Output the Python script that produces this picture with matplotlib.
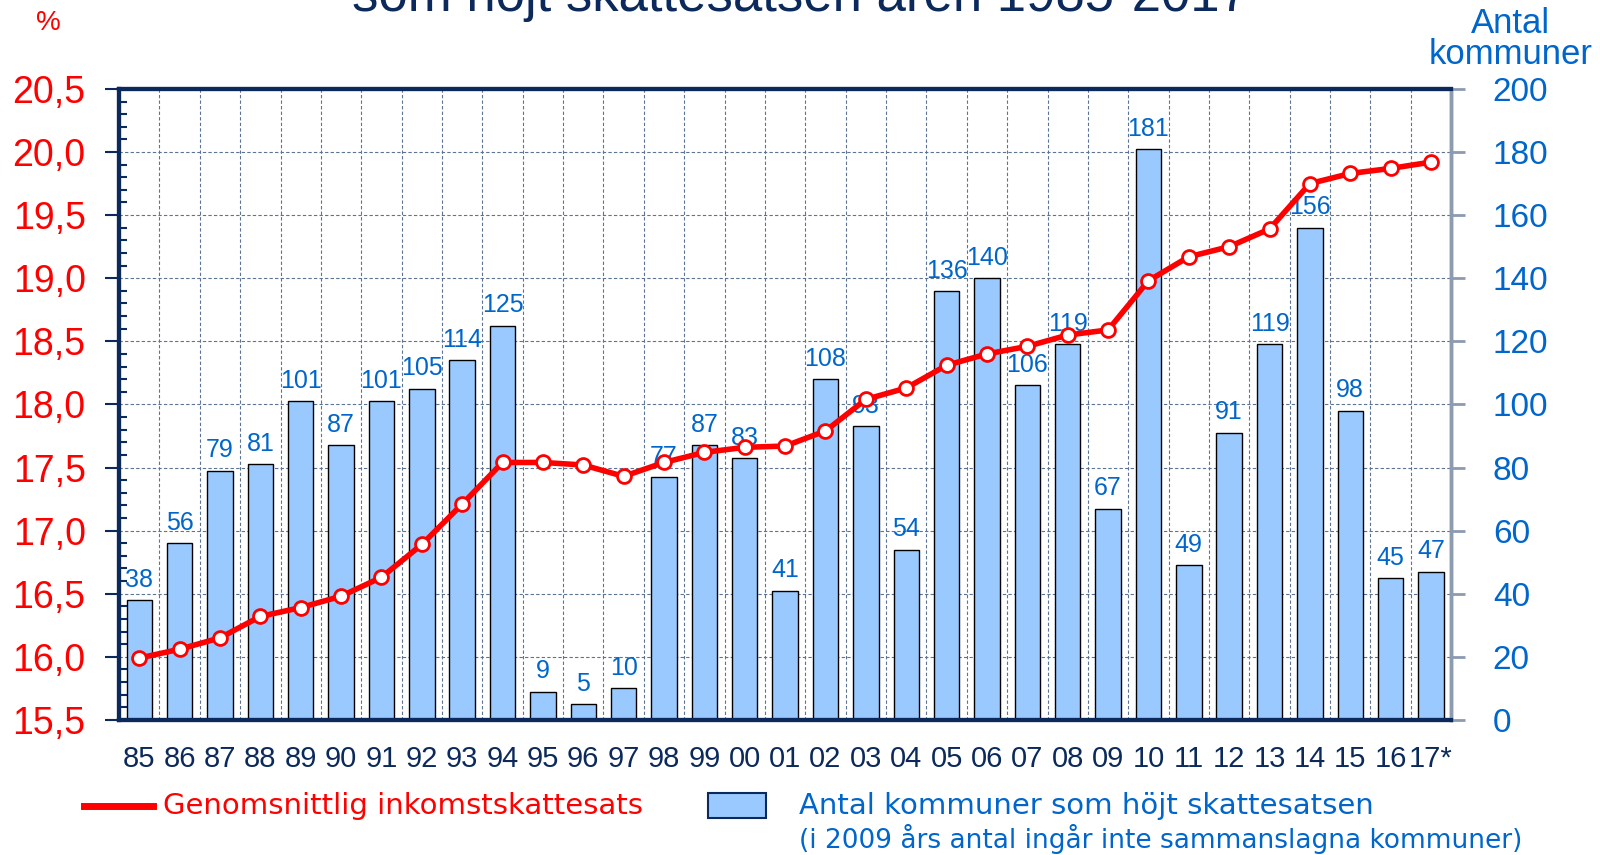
import numpy as np
import matplotlib
matplotlib.use("Agg")
import matplotlib.pyplot as plt
from matplotlib.ticker import MultipleLocator, FuncFormatter
from matplotlib.patches import Rectangle
from matplotlib.lines import Line2D

# data
years = ['85', '86', '87', '88', '89', '90', '91', '92', '93', '94', '95', '96',
         '97', '98', '99', '00', '01', '02', '03', '04', '05', '06', '07', '08',
         '09', '10', '11', '12', '13', '14', '15', '16', '17*']
antal = [38, 56, 79, 81, 101, 87, 101, 105, 114, 125, 9, 5,
         10, 77, 87, 83, 41, 108, 93, 54, 136, 140, 106, 119,
         67, 181, 49, 91, 119, 156, 98, 45, 47]
skattesats = [15.99, 16.06, 16.15, 16.32, 16.39, 16.48, 16.63, 16.89, 17.21, 17.54, 17.54, 17.52,
              17.43, 17.54, 17.62, 17.66, 17.67, 17.79, 18.04, 18.13, 18.31, 18.40, 18.46, 18.55,
              18.59, 18.98, 19.17, 19.25, 19.39, 19.75, 19.83, 19.87, 19.92]

RED = '#FF0000'
BLUE = '#0066CC'
NAVY = '#0B2A5B'
BARC = '#99C9FF'
GRID = '#5B7394'

plt.rcParams['font.family'] = ['Liberation Sans', 'DejaVu Sans']

fig = plt.figure(figsize=(16, 8.55), dpi=100)
ax = fig.add_axes([0.0744, 0.158, 0.8326, 0.738])
ax2 = ax.twinx()

x = np.arange(len(years))

# bars on right axis
ax2.bar(x, antal, width=0.63, color=BARC, edgecolor='black', linewidth=1, zorder=2)
for xi, v in zip(x, antal):
    ax2.annotate(str(v), (xi, v), xytext=(0, 6), textcoords='offset points',
                 ha='center', va='bottom', color=BLUE, fontsize=18, zorder=5)
ax2.set_ylim(0, 200)
ax2.yaxis.set_major_locator(MultipleLocator(20))
ax2.tick_params(axis='y', colors='#8C9BB0', labelcolor=BLUE, labelsize=24,
                length=10, width=2, direction='out', pad=20)

# line on left axis, drawn above bars
ax.set_zorder(ax2.get_zorder() + 1)
ax.patch.set_visible(False)
ax2.patch.set_visible(True)
ax2.patch.set_facecolor('white')
ax.plot(x, skattesats, color=RED, lw=4, marker='o', markersize=10,
        markerfacecolor='white', markeredgecolor=RED, markeredgewidth=2, zorder=4)
ax.set_ylim(15.5, 20.5)
ax.set_xlim(-0.5, len(years) - 0.5)
ax.yaxis.set_major_locator(MultipleLocator(0.5))
ax.yaxis.set_minor_locator(MultipleLocator(0.1))
ax.yaxis.set_major_formatter(FuncFormatter(lambda v, p: f'{v:.1f}'.replace('.', ',')))
ax.tick_params(axis='y', which='major', colors=NAVY, labelcolor=RED, labelsize=27,
               length=10, width=1.5, direction='out', pad=14)
ax.tick_params(axis='y', which='minor', colors=NAVY, length=6, width=1.5, direction='in')

# x ticks at category boundaries, labels at centres
ax.set_xticks(x + 0.5, minor=False)
ax.set_xticklabels([])
ax.set_xticks(x, minor=True)
ax.set_xticklabels(years, minor=True)
ax.tick_params(axis='x', which='major', colors=GRID, length=10, width=1, direction='out')
ax.tick_params(axis='x', which='minor', length=0, labelcolor=NAVY, labelsize=21, pad=18)
ax2.set_xticks([])

# grid
ax2.set_axisbelow(True)
for gx in x[:-1] + 0.5:
    ax2.axvline(gx, color=GRID, lw=0.8, ls=(0, (3, 2)), zorder=1)
for gy in np.arange(20, 200, 20):
    ax2.axhline(gy, color=GRID, lw=0.8, ls=(0, (3, 2)), zorder=1)

for a in (ax, ax2):
    for s in ('left', 'top', 'bottom'):
        a.spines[s].set_color(NAVY)
        a.spines[s].set_linewidth(3)
    a.spines['right'].set_color('#8C9BB0')
    a.spines['right'].set_linewidth(2.5)

# title runs off the top edge, as in the original
fig.text(0.5, 1 - 11 / 855, 'som höjt skattesatsen åren 1985-2017',
         ha='center', va='baseline', color=NAVY, fontsize=38)
fig.text(0.03, 1 - 23 / 855, '%', ha='center', va='center', color=RED, fontsize=20)
fig.text(0.944, 1 - 39 / 855, 'Antal\nkommuner', ha='center', va='center', color=BLUE,
         fontsize=25, linespacing=0.95)

# legend
fig.add_artist(Line2D([84 / 1600, 153 / 1600], [1 - 806 / 855] * 2, color=RED, lw=5))
fig.text(163 / 1600, 1 - 806 / 855, 'Genomsnittlig inkomstskattesats', ha='left', va='center',
         color=RED, fontsize=21, family='DejaVu Sans')
fig.add_artist(Rectangle((708 / 1600, 1 - 818 / 855), 58 / 1600, 25 / 855,
                         facecolor=BARC, edgecolor=NAVY, lw=1.5, transform=fig.transFigure))
fig.text(799 / 1600, 1 - 806 / 855, 'Antal kommuner som höjt skattesatsen', ha='left', va='center',
         color=BLUE, fontsize=21, family='DejaVu Sans')
fig.text(799 / 1600, 1 - 839 / 855, '(i 2009 års antal ingår inte sammanslagna kommuner)', ha='left',
         va='center', color=BLUE, fontsize=19, family='DejaVu Sans')

fig.savefig('out.png', dpi=100)
